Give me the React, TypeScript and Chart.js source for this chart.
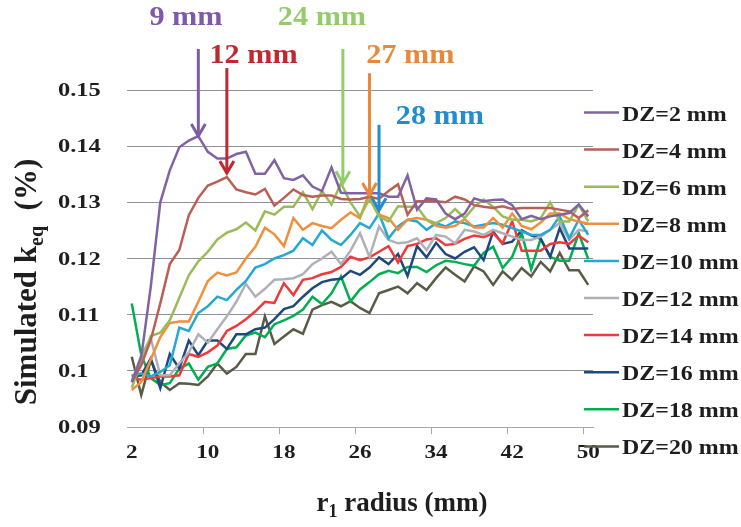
import React, { useEffect, useRef } from 'react';
import { Chart, registerables } from 'chart.js';

Chart.register(...registerables);

const FONT = "'Liberation Serif', 'Times New Roman', serif";

// x categories: r1 radius (mm)
const radii = [2, 3, 4, 5, 6, 7, 8, 9, 10, 11, 12, 13, 14, 15, 16, 17, 18, 19, 20, 21, 22, 23, 24, 25, 26,
  27, 28, 29, 30, 31, 32, 33, 34, 35, 36, 37, 38, 39, 40, 41, 42, 43, 44, 45, 46, 47, 48, 49, 50];
const xLabelEvery = 8;

const yTickMin = 0.09;
const yTickMax = 0.15;
const yTickStep = 0.01;

const dz2 = [0.098, 0.1025, 0.115, 0.130, 0.1357, 0.1398, 0.141, 0.1418, 0.139, 0.1378, 0.1378, 0.1386, 0.139, 0.1351, 0.1351, 0.1375, 0.1343,
  0.134, 0.1348, 0.1328, 0.132, 0.1362, 0.1317, 0.1316, 0.1316, 0.1316, 0.1316, 0.131, 0.131, 0.1348, 0.1287, 0.1307, 0.1305,
  0.128, 0.127, 0.128, 0.1307, 0.1302, 0.1304, 0.1305, 0.1295, 0.127, 0.1276, 0.127, 0.1275, 0.1278, 0.1281, 0.1296, 0.1275];
const dz4 = [0.098, 0.101, 0.1055, 0.112, 0.119, 0.1215, 0.1277, 0.1308, 0.133, 0.1337, 0.1345, 0.1323, 0.1318, 0.1314, 0.1324, 0.1294, 0.1308,
  0.1323, 0.1313, 0.131, 0.1312, 0.1312, 0.1306, 0.1305, 0.1306, 0.131, 0.1306, 0.132, 0.1332, 0.1278, 0.1302, 0.1302, 0.1302,
  0.13, 0.131, 0.1305, 0.1295, 0.1292, 0.129, 0.1293, 0.1288, 0.129, 0.129, 0.129, 0.129, 0.1287, 0.1284, 0.1272, 0.1286];
const dz6 = [0.097, 0.1015, 0.1062, 0.1068, 0.109, 0.113, 0.117, 0.1195, 0.1212, 0.1234, 0.1246, 0.1252, 0.1264, 0.125, 0.1284, 0.1278, 0.1292,
  0.1292, 0.1318, 0.1288, 0.132, 0.1296, 0.1334, 0.13, 0.1275, 0.1306, 0.1275, 0.1266, 0.1293, 0.1292, 0.1292, 0.1269, 0.1263,
  0.1272, 0.1288, 0.1272, 0.1292, 0.1305, 0.1292, 0.1275, 0.1269, 0.1269, 0.1266, 0.1272, 0.13, 0.1266, 0.1266, 0.1296, 0.1266];
const dz8 = [0.0966, 0.098, 0.102, 0.106, 0.1085, 0.1088, 0.1088, 0.1123, 0.116, 0.1175, 0.117, 0.1175, 0.12, 0.1221, 0.1255, 0.1243, 0.1222,
  0.1272, 0.1251, 0.1263, 0.1258, 0.1254, 0.1269, 0.1282, 0.1272, 0.1318, 0.1278, 0.1272, 0.1251, 0.1269, 0.1272, 0.1269, 0.1258,
  0.1255, 0.1258, 0.127, 0.1255, 0.1255, 0.1272, 0.1255, 0.128, 0.1258, 0.1252, 0.1264, 0.128, 0.128, 0.127, 0.1266, 0.1262];
const dz10 = [0.0992, 0.0995, 0.099, 0.0998, 0.101, 0.1077, 0.1071, 0.1103, 0.1115, 0.1132, 0.1126, 0.1144, 0.116, 0.1184, 0.119, 0.12, 0.1206,
  0.1214, 0.1236, 0.1224, 0.125, 0.1233, 0.1224, 0.1242, 0.1263, 0.1254, 0.128, 0.1236, 0.1257, 0.1269, 0.1266, 0.1251, 0.1263,
  0.1257, 0.1266, 0.1263, 0.1257, 0.126, 0.1263, 0.126, 0.1254, 0.1248, 0.1242, 0.1242, 0.1251, 0.1275, 0.1236, 0.1269, 0.1242];
const dz12 = [0.098, 0.1028, 0.1058, 0.0992, 0.0992, 0.1013, 0.1033, 0.1065, 0.105, 0.1074, 0.1097, 0.1123, 0.1155, 0.1132, 0.1146, 0.1162, 0.1163,
  0.1165, 0.1172, 0.119, 0.12, 0.1212, 0.119, 0.1214, 0.1245, 0.1203, 0.1257, 0.1233, 0.1227, 0.1229, 0.1236, 0.1215, 0.1242,
  0.1239, 0.1227, 0.1251, 0.1248, 0.1242, 0.1251, 0.1245, 0.1239, 0.1233, 0.1233, 0.1239, 0.1251, 0.1263, 0.1233, 0.1251, 0.1248];
const dz14 = [0.0987, 0.0984, 0.0987, 0.099, 0.099, 0.0992, 0.103, 0.1025, 0.1033, 0.1045, 0.1071, 0.108, 0.1092, 0.1106, 0.1123, 0.1121, 0.1156,
  0.1135, 0.1162, 0.1165, 0.1172, 0.1176, 0.1185, 0.1203, 0.1197, 0.1202, 0.1212, 0.1222, 0.1193, 0.1222, 0.1226, 0.1234, 0.1236,
  0.1224, 0.1226, 0.1235, 0.1241, 0.1238, 0.1245, 0.1227, 0.1266, 0.1214, 0.1214, 0.1214, 0.1226, 0.1229, 0.1226, 0.1241, 0.1229];
const dz16 = [0.099, 0.0992, 0.1022, 0.0969, 0.103, 0.1004, 0.1054, 0.1028, 0.1054, 0.1054, 0.1039, 0.1065, 0.1065, 0.1074, 0.1077, 0.1092, 0.111,
  0.1115, 0.1132, 0.1147, 0.1158, 0.1162, 0.1164, 0.1178, 0.1171, 0.1184, 0.1202, 0.119, 0.1208, 0.1169, 0.1222, 0.1202, 0.1228,
  0.1208, 0.12, 0.1212, 0.122, 0.1197, 0.1248, 0.1226, 0.123, 0.125, 0.1241, 0.1235, 0.1203, 0.1254, 0.1218, 0.1218, 0.1218];
const dz18 = [0.112, 0.1028, 0.0987, 0.0975, 0.0978, 0.1004, 0.1013, 0.0984, 0.1007, 0.1013, 0.1039, 0.1042, 0.1063, 0.1068, 0.106, 0.1083, 0.109,
  0.1098, 0.1109, 0.1132, 0.1119, 0.1138, 0.1168, 0.1124, 0.1145, 0.1158, 0.1172, 0.1178, 0.1174, 0.1185, 0.1185, 0.1176, 0.1188,
  0.1196, 0.1194, 0.119, 0.1187, 0.121, 0.1221, 0.1183, 0.1203, 0.1245, 0.1181, 0.1235, 0.1203, 0.1196, 0.1196, 0.1245, 0.1199];
const dz20 = [0.1025, 0.0957, 0.1019, 0.098, 0.0966, 0.0978, 0.0977, 0.0975, 0.099, 0.1013, 0.0995, 0.1007, 0.103, 0.103, 0.1097, 0.1048, 0.1061,
  0.1074, 0.1066, 0.1109, 0.1117, 0.1123, 0.1115, 0.1124, 0.1112, 0.1103, 0.1138, 0.1144, 0.115, 0.1138, 0.1156, 0.1144, 0.1165,
  0.1184, 0.1171, 0.1159, 0.1186, 0.1177, 0.1153, 0.1177, 0.1162, 0.1183, 0.1168, 0.1194, 0.1177, 0.121, 0.1179, 0.1179, 0.1153];

const seriesLabels = ['DZ=2 mm', 'DZ=4 mm', 'DZ=6 mm', 'DZ=8 mm', 'DZ=10 mm', 'DZ=12 mm', 'DZ=14 mm', 'DZ=16 mm', 'DZ=18 mm', 'DZ=20 mm'];
const seriesData = [dz2, dz4, dz6, dz8, dz10, dz12, dz14, dz16, dz18, dz20];
const seriesColors = ['#8064A2', '#BA5F55', '#9BBB59', '#F0903C', '#25A9D2', '#B0B1B8', '#F0393A', '#1F497D', '#00B050', '#5A5B46'];

// arrow annotations (radius, values)
const annoLabels = ['9 mm', '12 mm', '24 mm', '27 mm', '28 mm'];
const annoRadius = [9, 12, 24.2, 27, 28];
const annoTip = [0.1418, 0.1352, 0.1334, 0.1313, 0.1286];
const annoTail = [0.1573, 0.1539, 0.1573, 0.153, 0.1438];
const annoTextX = [7.7, 14.8, 22.0, 31.3, 34.4];
const annoTextY = [0.1616, 0.1548, 0.1616, 0.1548, 0.1439];
const annoColors = ['#7E5BA6', '#C0282F', '#93CC6B', '#E8893A', '#1F8DD0'];

const TEXT = '#1E1E1E';

function drawText(ctx: CanvasRenderingContext2D, text: string, x: number, y: number, size: number, sx: number, color: string, align: string) {
  ctx.save();
  ctx.font = `bold ${size}px ${FONT}`;
  ctx.fillStyle = color;
  ctx.textBaseline = 'alphabetic';
  ctx.textAlign = 'left';
  const w = ctx.measureText(text).width * sx;
  const left = align === 'center' ? x - w / 2 : align === 'right' ? x - w : x;
  ctx.translate(left, y);
  ctx.scale(sx, 1);
  ctx.fillText(text, 0, 0);
  ctx.restore();
  return w;
}

type Part = { t: string; size: number; dy: number };
function partsWidth(ctx: CanvasRenderingContext2D, parts: Part[], sx: number) {
  let w = 0;
  for (const p of parts) {
    ctx.font = `bold ${p.size}px ${FONT}`;
    w += ctx.measureText(p.t).width * sx;
  }
  return w;
}
function drawParts(ctx: CanvasRenderingContext2D, parts: Part[], x: number, y: number, sx: number, color: string) {
  let cx = x;
  for (const p of parts) {
    cx += drawText(ctx, p.t, cx, y + p.dy, p.size, sx, color, 'left');
  }
}

const decorPlugin = {
  id: 'decor',
  afterDraw(chart: any) {
    const ctx: CanvasRenderingContext2D = chart.ctx;
    const xs = chart.scales.x;
    const ys = chart.scales.y;
    const area = chart.chartArea;
    const xPix = (r: number) => xs.getPixelForValue(r - radii[0]);

    // y tick labels (left-aligned, as in the source figure)
    ys.ticks.forEach((t: any) => {
      const y = ys.getPixelForValue(t.value);
      drawText(ctx, String(Number(Number(t.value).toFixed(2))), area.left - 69, y + 6, 18, 1.36, TEXT, 'left');
    });
    // x tick labels
    radii.forEach((r, i) => {
      if (i % xLabelEvery !== 0) return;
      drawText(ctx, String(r), xs.getPixelForValue(i), area.bottom + 31, 19, 1.22, TEXT, 'center');
    });

    // legend
    const lx = area.right - 9;
    chart.data.datasets.forEach((ds: any, i: number) => {
      const ly = 112.5 + i * 37.1;
      ctx.save();
      ctx.strokeStyle = ds.borderColor;
      ctx.lineWidth = 2.5;
      ctx.beginPath();
      ctx.moveTo(lx, ly);
      ctx.lineTo(lx + 35, ly);
      ctx.stroke();
      ctx.restore();
      drawText(ctx, ds.label, lx + 38, ly + 8, 21, 1.14, TEXT, 'left');
    });

    // y title (rotated)
    const yParts: Part[] = [
      { t: 'Simulated k', size: 31, dy: 0 },
      { t: 'eq', size: 20, dy: 7 },
      { t: '  (%)', size: 31, dy: 0 },
    ];
    const ysx = 1.0;
    const yw = partsWidth(ctx, yParts, ysx);
    ctx.save();
    ctx.translate(36, 282);
    ctx.rotate(-Math.PI / 2);
    drawParts(ctx, yParts, -yw / 2, 0, ysx, TEXT);
    ctx.restore();

    // x title
    const xParts: Part[] = [
      { t: 'r', size: 27, dy: 0 },
      { t: '1', size: 18, dy: 6 },
      { t: ' radius (mm)', size: 27, dy: 0 },
    ];
    const xsx = 1.0;
    const xw = partsWidth(ctx, xParts, xsx);
    drawParts(ctx, xParts, 402 - xw / 2, 511, xsx, TEXT);

    // arrows + labels
    annoLabels.forEach((lab, i) => {
      const x = xPix(annoRadius[i]);
      const yTip = ys.getPixelForValue(annoTip[i]);
      const yTail = ys.getPixelForValue(annoTail[i]);
      ctx.save();
      ctx.strokeStyle = annoColors[i];
      ctx.lineWidth = 3;
      ctx.lineJoin = 'miter';
      ctx.beginPath();
      ctx.moveTo(x, yTail);
      ctx.lineTo(x, yTip);
      ctx.stroke();
      ctx.beginPath();
      ctx.moveTo(x - 7, yTip - 12);
      ctx.lineTo(x, yTip);
      ctx.lineTo(x + 7, yTip - 12);
      ctx.stroke();
      ctx.restore();
      drawText(ctx, lab, xPix(annoTextX[i]), ys.getPixelForValue(annoTextY[i]), 28, 1.08, annoColors[i], 'center');
    });
  },
};

export default function App() {
  const ref = useRef<HTMLCanvasElement | null>(null);
  useEffect(() => {
    if (!ref.current) return;
    const chart = new Chart(ref.current, {
      type: 'line',
      data: {
        labels: radii.map(String),
        datasets: seriesLabels.map((label, i) => ({
          label,
          data: seriesData[i],
          borderColor: seriesColors[i],
          backgroundColor: seriesColors[i],
          borderWidth: 2.5,
          pointRadius: 0,
          tension: 0,
          fill: false,
        })),
      },
      options: {
        animation: false,
        responsive: true,
        maintainAspectRatio: false,
        layout: { padding: { top: 90, right: 148, left: 0, bottom: 0 } },
        plugins: { legend: { display: false }, tooltip: { enabled: false } },
        scales: {
          x: {
            type: 'category',
            offset: true,
            grid: {
              offset: true,
              drawOnChartArea: false,
              drawTicks: true,
              tickLength: 7,
              lineWidth: 1,
              color: (c: any) => (c.index && c.index % xLabelEvery === 0 ? '#A6A6A6' : 'rgba(0,0,0,0)'),
            },
            border: { display: true, color: '#A6A6A6', width: 1 },
            ticks: { display: false, autoSkip: false, maxRotation: 0 },
            afterFit: (s: any) => { s.height = 100; },
          },
          y: {
            min: yTickMin,
            max: yTickMax,
            grid: { color: '#8E919D', lineWidth: 1, drawTicks: false },
            border: { display: false },
            ticks: { display: false, stepSize: yTickStep },
            afterFit: (s: any) => { s.width = 127; },
          },
        },
      } as any,
      plugins: [decorPlugin],
    });
    return () => chart.destroy();
  }, []);
  return (
    <div style={{ position: 'fixed', left: 0, top: 0, width: 741, height: 527, background: '#fff' }}>
      <canvas ref={ref} />
    </div>
  );
}
